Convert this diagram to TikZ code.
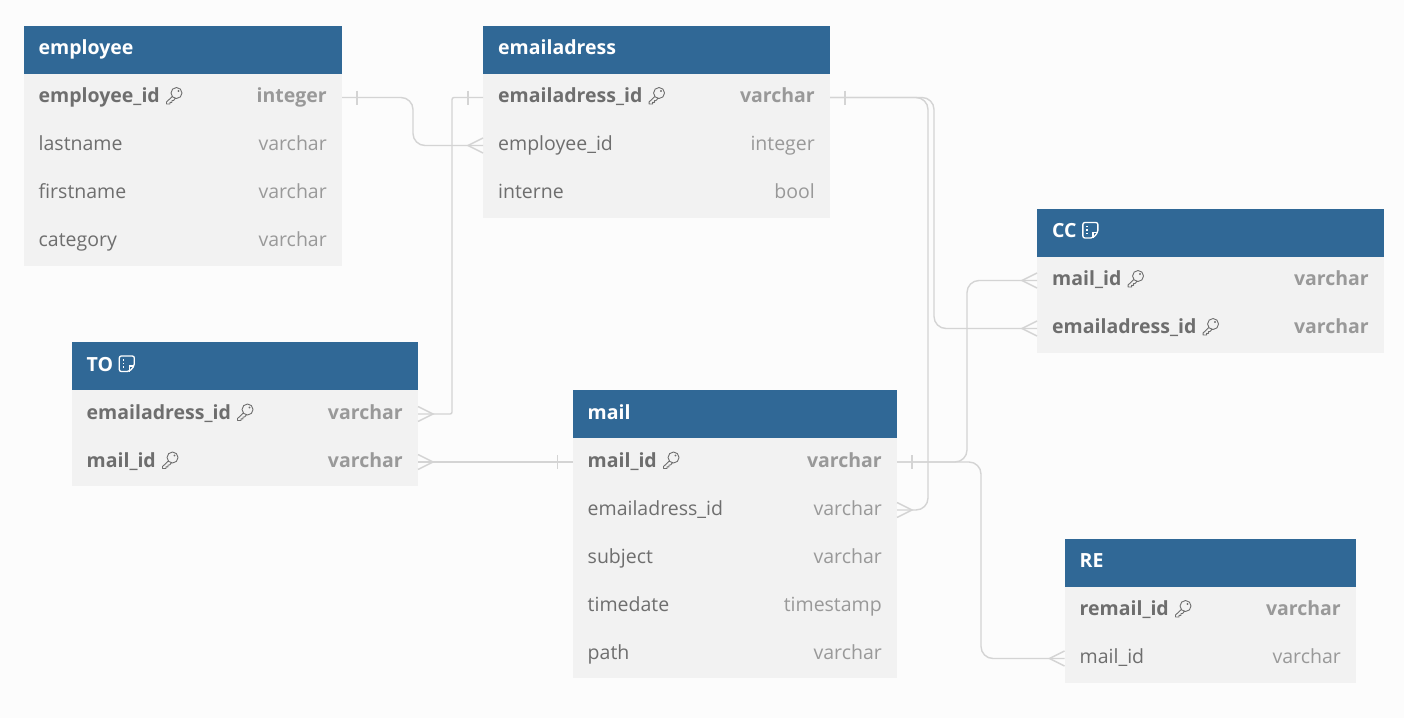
\documentclass[tikz,border=0pt]{standalone}
\usepackage{xcolor}
\usepackage{fontspec}
\setmainfont{Open Sans}
\usepackage{tikz}
\usetikzlibrary{positioning,calc}

\definecolor{headblue}{HTML}{306896}
\definecolor{rowgrey}{HTML}{F2F2F2}
\definecolor{pagegrey}{HTML}{FCFCFC}
\definecolor{namegrey}{HTML}{6E6E6E}
\definecolor{typegrey}{HTML}{999999}
\definecolor{linegrey}{HTML}{D4D4D4}

\tikzset{
  tablehead/.style={draw=none,fill=headblue,minimum height=48pt,inner sep=0pt,outer sep=0pt},
  rowbox/.style={draw=none,fill=rowgrey,minimum height=48pt,inner sep=0pt,outer sep=0pt},
  headtext/.style={anchor=base west,inner sep=0pt,text=white,font=\fontsize{19.5}{23}\selectfont\bfseries},
  fieldname/.style={anchor=base west,inner sep=0pt,text=namegrey,font=\fontsize{19.5}{23}\selectfont},
  fieldtype/.style={anchor=base east,inner sep=0pt,text=typegrey,font=\fontsize{19.5}{23}\selectfont},
  conn/.style={draw=linegrey,line width=1.4pt},
  crowfoot/.pic={\draw[conn] (0,-7.5) -- (15,0) -- (0,7.5);},
  onetick/.pic={\draw[conn] (15,-7) -- (15,7);},
  keyicon/.pic={\draw[namegrey,line width=0.9pt,line join=round] (10.5,-2.5) circle[radius=5.5]
    (6.3,1) -- (0.5,6.5) -- (0.5,8.5) -- (4,8.5) -- (4,6.8) -- (6,6.8) -- (6,5) -- (7.5,5) -- (9.3,2.9)
    (12.5,-4.5) circle[radius=0.5];},
  noteicon/.pic={\draw[white,line width=1.3pt,rounded corners=2pt] (0,-8) -- (15,-8) -- (15,2) -- (10,7.5) -- (0,7.5) -- cycle;
    \draw[white,line width=1.3pt] (15,2) -- (10,2) -- (10,7.5);
    \draw[white,line width=1.3pt] (3.5,-4) -- (5,-4) (3.5,-0.5) -- (5,-0.5) (3.5,3) -- (5,3);}
}

% one row of a table: name, previous node, width, field, type
\newcommand{\plainrow}[5]{%
\node[rowbox,minimum width=#3pt,below=0pt of #2] (#1) {};
\node[fieldname] (#1Name) at ([xshift=15pt,yshift=-5pt]#1.west) {#4};
\node[fieldtype] (#1Type) at ([xshift=-15pt,yshift=-5pt]#1.east) {#5};}
\newcommand{\keyrow}[5]{%
\node[rowbox,minimum width=#3pt,below=0pt of #2] (#1) {};
\node[fieldname,font=\fontsize{19.5}{23}\selectfont\bfseries] (#1Name) at ([xshift=15pt,yshift=-5pt]#1.west) {#4};
\node[fieldtype,font=\fontsize{19.5}{23}\selectfont\bfseries] (#1Type) at ([xshift=-15pt,yshift=-5pt]#1.east) {#5};
\pic at ([xshift=6pt,yshift=7pt]#1Name.base east) {keyicon};}

\begin{document}
\begin{tikzpicture}[x=1pt,y=-1pt]
\fill[pagegrey] (0,0) rectangle (1404,718);
\useasboundingbox (0,0) rectangle (1404,718);

% employee
\node[tablehead,minimum width=318.5pt,anchor=north west] (employee) at (23.5,25.5) {};
\node[headtext] (employeeHead) at ([xshift=15pt,yshift=-5pt]employee.west) {employee};
\keyrow{employeeId}{employee}{318.5}{employee\_id}{integer}
\plainrow{employeeLast}{employeeId}{318.5}{lastname}{varchar}
\plainrow{employeeFirst}{employeeLast}{318.5}{firstname}{varchar}
\plainrow{employeeCat}{employeeFirst}{318.5}{category}{varchar}

% emailadress
\node[tablehead,minimum width=347pt,anchor=north west] (emailadress) at (483,25.5) {};
\node[headtext] (emailadressHead) at ([xshift=15pt,yshift=-5pt]emailadress.west) {emailadress};
\keyrow{adressId}{emailadress}{347}{emailadress\_id}{varchar}
\plainrow{adressEmp}{adressId}{347}{employee\_id}{integer}
\plainrow{adressInt}{adressEmp}{347}{interne}{bool}

% TO
\node[tablehead,minimum width=346.5pt,anchor=north west] (to) at (71.5,342) {};
\node[headtext] (toHead) at ([xshift=15pt,yshift=-5pt]to.west) {TO};
\pic at ([xshift=6pt,yshift=7pt]toHead.base east) {noteicon};
\keyrow{toAdress}{to}{346.5}{emailadress\_id}{varchar}
\keyrow{toMail}{toAdress}{346.5}{mail\_id}{varchar}

% mail
\node[tablehead,minimum width=324.5pt,anchor=north west] (mail) at (572.5,390) {};
\node[headtext] (mailHead) at ([xshift=15pt,yshift=-5pt]mail.west) {mail};
\keyrow{mailId}{mail}{324.5}{mail\_id}{varchar}
\plainrow{mailAdress}{mailId}{324.5}{emailadress\_id}{varchar}
\plainrow{mailSubject}{mailAdress}{324.5}{subject}{varchar}
\plainrow{mailTime}{mailSubject}{324.5}{timedate}{timestamp}
\plainrow{mailPath}{mailTime}{324.5}{path}{varchar}

% CC
\node[tablehead,minimum width=347pt,anchor=north west] (cc) at (1037,208.5) {};
\node[headtext] (ccHead) at ([xshift=15pt,yshift=-5pt]cc.west) {CC};
\pic at ([xshift=6pt,yshift=7pt]ccHead.base east) {noteicon};
\keyrow{ccMail}{cc}{347}{mail\_id}{varchar}
\keyrow{ccAdress}{ccMail}{347}{emailadress\_id}{varchar}

% RE
\node[tablehead,minimum width=291.5pt,anchor=north west] (re) at (1064.5,538.5) {};
\node[headtext] (reHead) at ([xshift=15pt,yshift=-5pt]re.west) {RE};
\keyrow{reId}{re}{291.5}{remail\_id}{varchar}
\plainrow{reMail}{reId}{291.5}{mail\_id}{varchar}

% connectors
\coordinate (bendA) at (413,0);
\coordinate (bendB) at (452,0);
\coordinate (bendC) at (928,0);
\coordinate (bendD) at (934,0);
\coordinate (bendE) at (967,0);
\coordinate (bendF) at (981,0);
\draw[conn,rounded corners=12pt] (employeeId.east) -- (employeeId.east -| bendA) -- (adressEmp.west -| bendA) -- (adressEmp.west);
\draw[conn,rounded corners=2pt] (adressId.west) -- (adressId.west -| bendB) -- (toAdress.east -| bendB) -- (toAdress.east);
\draw[conn,rounded corners=12pt] (adressId.east) -- (adressId.east -| bendC) -- (mailAdress.east -| bendC) -- (mailAdress.east);
\draw[conn,rounded corners=12pt] (adressId.east) -- (adressId.east -| bendD) -- (ccAdress.west -| bendD) -- (ccAdress.west);
\draw[conn,rounded corners=12pt] (mailId.east) -- (mailId.east -| bendE) -- (ccMail.west -| bendE) -- (ccMail.west);
\draw[conn,rounded corners=12pt] (mailId.east) -- (mailId.east -| bendF) -- (reMail.west -| bendF) -- (reMail.west);
\draw[conn] (toMail.east) -- (mailId.west);

% ends of the connectors
\pic at (employeeId.east) {onetick};
\pic[xscale=-1] at (adressEmp.west) {crowfoot};
\pic[xscale=-1] at (adressId.west) {onetick};
\pic at (toAdress.east) {crowfoot};
\pic at (toMail.east) {crowfoot};
\pic[xscale=-1] at (mailId.west) {onetick};
\pic at (adressId.east) {onetick};
\pic at (mailAdress.east) {crowfoot};
\pic at (mailId.east) {onetick};
\pic[xscale=-1] at (ccMail.west) {crowfoot};
\pic[xscale=-1] at (ccAdress.west) {crowfoot};
\pic[xscale=-1] at (reMail.west) {crowfoot};
\end{tikzpicture}
\end{document}
